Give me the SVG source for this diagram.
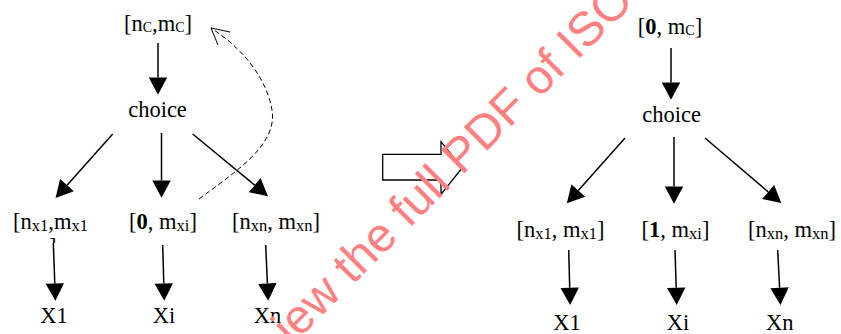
<svg xmlns="http://www.w3.org/2000/svg" width="841" height="334" viewBox="0 0 841 334">
<style>
.t{font-family:'Liberation Serif',Tinos,'Times New Roman',Times,serif;font-size:22.5px;fill:#000}
.m{text-anchor:middle}
.b{font-weight:bold}
.s{font-size:16.5px}
.sc{font-size:14px}
.c{stroke:#000;stroke-width:1.5;fill:none}
.d{stroke:#000;stroke-width:1;fill:none;stroke-dasharray:5,3}
.wm{font-family:'Liberation Sans',Arial,sans-serif;font-size:48px;fill:#ff8080}
</style>
<defs>
<marker id="ah" markerUnits="userSpaceOnUse" markerWidth="20" markerHeight="20" refX="0" refY="0" viewBox="0 -9 16 18" orient="auto" overflow="visible">
<path d="M0,-8.3 L15.5,0 L0,8.3 z" fill="#000"/>
</marker>
<clipPath id="cl"><rect x="40" y="235" width="25" height="8"/></clipPath>
</defs>
<rect width="841" height="334" fill="#fff"/>

<g id="connectors">
<line class="c" x1="158" y1="43" x2="158" y2="77.5" marker-end="url(#ah)"/>
<line class="c" x1="112.7" y1="134" x2="67" y2="185.2" marker-end="url(#ah)"/>
<line class="c" x1="161.5" y1="133" x2="161.5" y2="180.5" marker-end="url(#ah)"/>
<line class="c" x1="192.7" y1="134" x2="254.7" y2="185.2" marker-end="url(#ah)"/>
<line class="c" x1="53.3" y1="243" x2="54.8" y2="283.5" marker-end="url(#ah)"/>
<line class="c" x1="162.7" y1="245" x2="163.8" y2="283.5" marker-end="url(#ah)"/>
<line class="c" x1="265.7" y1="245" x2="267.4" y2="283.5" marker-end="url(#ah)"/>
<path class="d" d="M199,199 C235,172 278,145 272,110 C267,80 245,50 211,28"/>
<path d="M230,32 L211,28 L218,45" stroke="#000" stroke-width="1" fill="none"/>

<line class="c" x1="671" y1="48" x2="671" y2="82.5" marker-end="url(#ah)"/>
<line class="c" x1="625" y1="138" x2="578.3" y2="190.5" marker-end="url(#ah)"/>
<line class="c" x1="674" y1="137" x2="674" y2="186.5" marker-end="url(#ah)"/>
<line class="c" x1="705" y1="138" x2="768.2" y2="191.9" marker-end="url(#ah)"/>
<line class="c" x1="568.7" y1="250" x2="569.7" y2="287.8" marker-end="url(#ah)"/>
<line class="c" x1="675" y1="250" x2="676.2" y2="287.8" marker-end="url(#ah)"/>
<line class="c" x1="777.7" y1="250" x2="779.6" y2="287.8" marker-end="url(#ah)"/>
</g>

<g id="transform-arrow">
<polygon points="382.7,154.3 441,154.3 441,141.7 462.3,167.7 441,194.3 441,180 382.7,180" fill="#fff" stroke="#000" stroke-width="1.3"/>
</g>

<g id="L-top"><text class="t m" x="158" y="31">[n<tspan class="sc" dy="1">C</tspan><tspan dy="-1">,m</tspan><tspan class="sc" dy="1">C</tspan><tspan dy="-1">]</tspan></text></g>
<g id="L-choice"><text class="t m" x="157.5" y="117">choice</text></g>
<g id="L-x1"><text class="t" x="13" y="229">[n<tspan class="s" dy="2">x1</tspan><tspan dy="-2">,m</tspan><tspan class="s" dy="2">x1</tspan></text>
<text class="t" x="49" y="254" clip-path="url(#cl)">]</text></g>
<g id="L-xi"><text class="t m" x="163" y="229">[<tspan class="b">0</tspan>, m<tspan class="s" dy="2">xi</tspan><tspan dy="-2">]</tspan></text></g>
<g id="L-xn"><text class="t m" x="276" y="229">[n<tspan class="s" dy="2">xn</tspan><tspan dy="-2">, m</tspan><tspan class="s" dy="2">xn</tspan><tspan dy="-2">]</tspan></text></g>
<g id="L-X1"><text class="t m" x="54" y="323">X1</text></g>
<g id="L-Xi"><text class="t m" x="164" y="323">Xi</text></g>
<g id="L-Xn"><text class="t m" x="267.5" y="323">Xn</text></g>

<g id="R-top"><text class="t m" x="670" y="34">[<tspan class="b">0</tspan>, m<tspan class="sc" dy="1">C</tspan><tspan dy="-1">]</tspan></text></g>
<g id="R-choice"><text class="t m" x="671.7" y="121.5">choice</text></g>
<g id="R-x1"><text class="t m" x="560.5" y="237">[n<tspan class="s" dy="2">x1</tspan><tspan dy="-2">, m</tspan><tspan class="s" dy="2">x1</tspan><tspan dy="-2">]</tspan></text></g>
<g id="R-xi"><text class="t m" x="675.5" y="237">[<tspan class="b">1</tspan>, m<tspan class="s" dy="2">xi</tspan><tspan dy="-2">]</tspan></text></g>
<g id="R-xn"><text class="t m" x="792" y="237">[n<tspan class="s" dy="2">xn</tspan><tspan dy="-2">, m</tspan><tspan class="s" dy="2">xn</tspan><tspan dy="-2">]</tspan></text></g>
<g id="R-X1"><text class="t m" x="567" y="330">X1</text></g>
<g id="R-Xi"><text class="t m" x="678" y="330">Xi</text></g>
<g id="R-Xn"><text class="t m" x="779.7" y="330">Xn</text></g>

<g id="watermark"><text class="wm" transform="rotate(-45)" x="-38" y="451">iew the full PDF of ISO</text></g>
</svg>
